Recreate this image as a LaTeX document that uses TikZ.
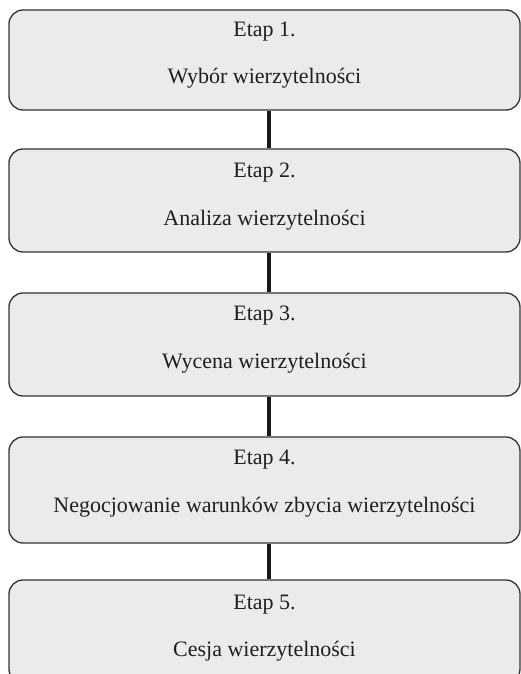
\documentclass[tikz,border=0pt]{standalone}
\usepackage{fontspec}
\setmainfont{Liberation Serif}
\begin{document}
\begin{tikzpicture}[x=1pt,y=-1pt,
  stagebox/.style={draw=black!80, line width=1.3pt, fill=black!8, rounded corners=14pt,
    minimum width=511pt, inner sep=0pt},
  lbl/.style={font=\fontsize{22}{26}\selectfont, text=black!88, anchor=base, inner sep=0pt},
  conn/.style={line width=4pt, draw=black!90}]
\useasboundingbox (0,0) rectangle (521,674);
\node[stagebox, minimum height=100pt] (b1) at (264.5,60) {};
\node[stagebox, minimum height=103pt] (b2) at (264.5,200.5) {};
\node[stagebox, minimum height=103pt] (b3) at (264.5,344.5) {};
\node[stagebox, minimum height=106pt] (b4) at (264.5,490) {};
\node[stagebox, minimum height=103pt] (b5) at (264.5,631.5) {};
\node[lbl] (e1) at (264.5,37) {Etap 1.};
\node[lbl] (t1) at (264.5,84) {Wybór wierzytelności};
\node[lbl] (e2) at (264.5,177) {Etap 2.};
\node[lbl] (t2) at (264.5,225) {Analiza wierzytelności};
\node[lbl] (e3) at (264.5,320) {Etap 3.};
\node[lbl] (t3) at (264.5,368) {Wycena wierzytelności};
\node[lbl] (e4) at (264.5,464) {Etap 4.};
\node[lbl] (t4) at (264.5,512) {Negocjowanie warunków zbycia wierzytelności};
\node[lbl] (e5) at (264.5,609) {Etap 5.};
\node[lbl] (t5) at (264.5,656) {Cesja wierzytelności};
\draw[conn] ([xshift=4pt]b1.south) -- ([xshift=4pt]b2.north);
\draw[conn] ([xshift=4pt]b2.south) -- ([xshift=4pt]b3.north);
\draw[conn] ([xshift=4pt]b3.south) -- ([xshift=4pt]b4.north);
\draw[conn] ([xshift=4pt]b4.south) -- ([xshift=4pt]b5.north);
\end{tikzpicture}
\end{document}
